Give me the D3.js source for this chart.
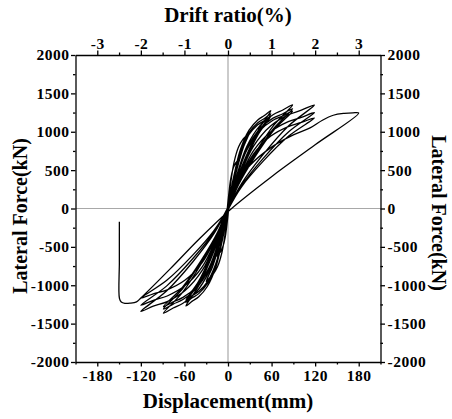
<!DOCTYPE html>
<html>
<head>
<meta charset="utf-8">
<script src="https://cdn.jsdelivr.net/npm/d3@7"></script>
<style>
  body { margin: 0; background: #fff; }
  svg { font-family: "Liberation Serif", "Times New Roman", serif; font-weight: bold; }
</style>
</head>
<body>
<svg id="chart" width="452" height="419"></svg>
<script>
// hysteresis loops, [displacement mm, lateral force kN]
const cyc15 = [[-1,0],[1.4,215],[3.8,390],[7,520],[10.2,588],[12.6,618],[15,650],
  [10.8,520],[6.6,338],[3.1,156],[1,0],
  [-1.4,-205],[-3.8,-372],[-7,-496],[-10.2,-561],[-12.6,-589],[-15,-620],
  [-10.8,-496],[-6.6,-322],[-3.1,-149],[-1,0]];
const cyc30 = [[3.7,330],[8.3,600],[14.5,800],[20.7,905],[25.4,950],[30,1000],
  [21.3,800],[12.6,520],[5.4,240],[1,0],
  [-3.7,-314],[-8.3,-570],[-14.5,-760],[-20.7,-860],[-25.4,-903],[-30,-950],
  [-21.3,-760],[-12.6,-494],[-5.4,-228],[-1,0]];
const cyc60 = [
  [8,421],[17,765],[29,1020],[41,1154],[50,1211],[59,1275],
  [41.6,1020],[24.2,663],[9.7,306],[1,0],
  [-7.9,-419],[-16.7,-762],[-28.5,-1016],[-40.3,-1149],[-49.2,-1207],[-58,-1270],
  [-40.9,-1016],[-23.8,-660],[-9.6,-305],[-1,0],
  [8,408],[17,741],[29,988],[41,1118],[50,1173],[59,1235],
  [41.6,988],[24.2,642],[9.7,296],[1,0],
  [-7.9,-404],[-16.7,-735],[-28.5,-980],[-40.3,-1109],[-49.2,-1164],[-58,-1225],
  [-40.9,-980],[-23.8,-637],[-9.6,-294],[-1,0],
  [8,398],[17,723],[29,964],[41,1091],[50,1145],[59,1205],
  [41.6,964],[24.2,627],[9.7,289],[1,0],
  [-7.9,-394],[-16.7,-717],[-28.5,-956],[-40.3,-1081],[-49.2,-1135],[-58,-1195],
  [-40.9,-956],[-23.8,-621],[-9.6,-287],[-1,0]];
const cyc90 = [
  [12.5,446],[26,810],[44,1080],[62,1222],[75.5,1283],[89,1350],
  [62.6,1080],[36.2,702],[14.2,324],[1,0],
  [-12.5,-450],[-26,-819],[-44,-1092],[-62,-1235],[-75.5,-1297],[-89,-1365],
  [-62.6,-1092],[-36.2,-710],[-14.2,-328],[-1,0],
  [12.5,429],[26,780],[44,1040],[62,1177],[75.5,1235],[89,1300],
  [62.6,1040],[36.2,676],[14.2,312],[1,0],
  [-12.5,-432],[-26,-786],[-44,-1048],[-62,-1186],[-75.5,-1245],[-89,-1310],
  [-62.6,-1048],[-36.2,-681],[-14.2,-314],[-1,0],
  [12.5,419],[26,762],[44,1016],[62,1149],[75.5,1207],[89,1270],
  [62.6,1016],[36.2,660],[14.2,305],[1,0],
  [-12.5,-422],[-26,-768],[-44,-1024],[-62,-1158],[-75.5,-1216],[-89,-1280],
  [-62.6,-1024],[-36.2,-666],[-14.2,-307],[-1,0]];
const cyc120 = [
  [17,445],[35,809],[59,1078],[83,1220],[101,1281],[119,1348],
  [83.6,1078],[48.2,701],[18.7,324],[1,0],
  [-17.2,-442],[-35.3,-804],[-59.5,-1072],[-83.7,-1213],[-102.9,-1273],[-120,-1340],
  [-84.3,-1072],[-48.6,-697],[-18.9,-322],[-1,0],
  [17,413],[35,750],[59,1000],[83,1131],[101,1188],[119,1250],
  [83.6,1000],[48.2,650],[18.7,300],[1,0],
  [-17.2,-416],[-35.3,-756],[-59.5,-1008],[-83.7,-1140],[-102.9,-1197],[-120,-1260],
  [-84.3,-1008],[-48.6,-655],[-18.9,-302],[-1,0],
  [17,389],[35,708],[59,944],[83,1068],[101,1121],[119,1180],
  [83.6,944],[48.2,614],[18.7,283],[1,0],
  [-17.2,-386],[-35.3,-702],[-59.5,-936],[-83.7,-1059],[-102.9,-1112],[-120,-1170],
  [-84.3,-936],[-48.6,-608],[-18.9,-281],[-1,0]];
const push180 = [[10,300],[30,560],[60,800],[90,960],[113,1050],[130,1150],
  [145,1215],[160,1240],[172,1247],[180,1244],[120,830],[60,415],[3,-15]];
const pushNeg = [[-40,-400],[-80,-790],[-120,-1166],[-126,-1216],[-135,-1233],
  [-142,-1235],[-147,-1218],[-149.5,-1170],[-149.6,-700],[-149.6,-172]];

const dispTicks = [-180, -120, -60, 0, 60, 120, 180];
const driftTicks = [-3, -2, -1, 0, 1, 2, 3];
const forceTicks = [-2000, -1500, -1000, -500, 0, 500, 1000, 1500, 2000];

const svg = d3.select("#chart");
const m = {left: 75.5, right: 380.5, top: 55, bottom: 362};

const x = d3.scaleLinear().domain([-210, 210]).range([m.left, m.right]);
const xTop = d3.scaleLinear().domain([-3.5, 3.5]).range([m.left, m.right]);
const y = d3.scaleLinear().domain([-2000, 2000]).range([m.bottom, m.top]);

// zero lines
svg.append("line")
    .attr("x1", x(0)).attr("x2", x(0)).attr("y1", m.top).attr("y2", m.bottom)
    .attr("stroke", "#a8a8a8").attr("stroke-width", 1.2);
svg.append("line")
    .attr("x1", m.left).attr("x2", m.right).attr("y1", y(0)).attr("y2", y(0))
    .attr("stroke", "#a8a8a8").attr("stroke-width", 1.2);

const data = [].concat(cyc15, cyc30, cyc60, cyc90, cyc120, push180, pushNeg);

svg.append("path")
    .datum(data)
    .attr("fill", "none")
    .attr("stroke", "#000")
    .attr("stroke-width", 1.3)
    .attr("stroke-linejoin", "round")
    .attr("d", d3.line().x(d => x(d[0])).y(d => y(d[1])).curve(d3.curveCatmullRom.alpha(0.5)));

function styleAxis(g) {
  g.select(".domain").attr("stroke", "#000").attr("stroke-width", 1.3);
  g.selectAll(".tick line").attr("stroke", "#000").attr("stroke-width", 1.3);
  g.selectAll(".tick text").attr("fill", "#000").style("font-size", "15.5px").style("font-weight", "bold")
    .style("letter-spacing", "0.5px").style("font-family", "'Liberation Serif', serif");
}
function minor(axis, vals, tr) {
  const g = svg.append("g").attr("transform", tr)
    .call(axis.tickValues(vals).tickSize(2.5).tickFormat(""));
  g.select(".domain").remove();
  g.selectAll(".tick line").attr("stroke", "#000").attr("stroke-width", 1.3);
}
const fmt = d => String(d);

// bottom
svg.append("g").attr("transform", `translate(0,${m.bottom})`)
    .call(d3.axisBottom(x).tickValues(dispTicks).tickFormat(fmt).tickSize(4.5).tickSizeOuter(0).tickPadding(3))
    .call(styleAxis);
minor(d3.axisBottom(x), [-210, -150, -90, -30, 30, 90, 150, 210], `translate(0,${m.bottom})`);

// top
svg.append("g").attr("transform", `translate(0,${m.top})`)
    .call(d3.axisTop(xTop).tickValues(driftTicks).tickFormat(fmt).tickSize(4.5).tickSizeOuter(0).tickPadding(2))
    .call(styleAxis);
minor(d3.axisTop(xTop), [-2.5, -1.5, -0.5, 0.5, 1.5, 2.5], `translate(0,${m.top})`);

// left
svg.append("g").attr("transform", `translate(${m.left},0)`)
    .call(d3.axisLeft(y).tickValues(forceTicks).tickFormat(fmt).tickSize(4.5).tickSizeOuter(0).tickPadding(1.5))
    .call(styleAxis);
minor(d3.axisLeft(y), [-1750, -1250, -750, -250, 250, 750, 1250, 1750], `translate(${m.left},0)`);

// right
svg.append("g").attr("transform", `translate(${m.right},0)`)
    .call(d3.axisRight(y).tickValues(forceTicks).tickFormat(fmt).tickSize(4.5).tickSizeOuter(0).tickPadding(2.5))
    .call(styleAxis);
minor(d3.axisRight(y), [-1750, -1250, -750, -250, 250, 750, 1250, 1750], `translate(${m.right},0)`);

// titles
svg.append("text").attr("x", x(0)).attr("y", 408).attr("text-anchor", "middle")
    .style("font-size", "21px").text("Displacement(mm)");
svg.append("text").attr("x", x(0)).attr("y", 22).attr("text-anchor", "middle")
    .style("font-size", "21px").text("Drift ratio(%)");
svg.append("text").attr("transform", "translate(27,216) rotate(-90)").attr("text-anchor", "middle")
    .style("font-size", "20px").text("Lateral Force(kN)");
svg.append("text").attr("transform", "translate(432,213) rotate(90)").attr("text-anchor", "middle")
    .style("font-size", "20px").text("Lateral Force(kN)");
</script>
</body>
</html>
